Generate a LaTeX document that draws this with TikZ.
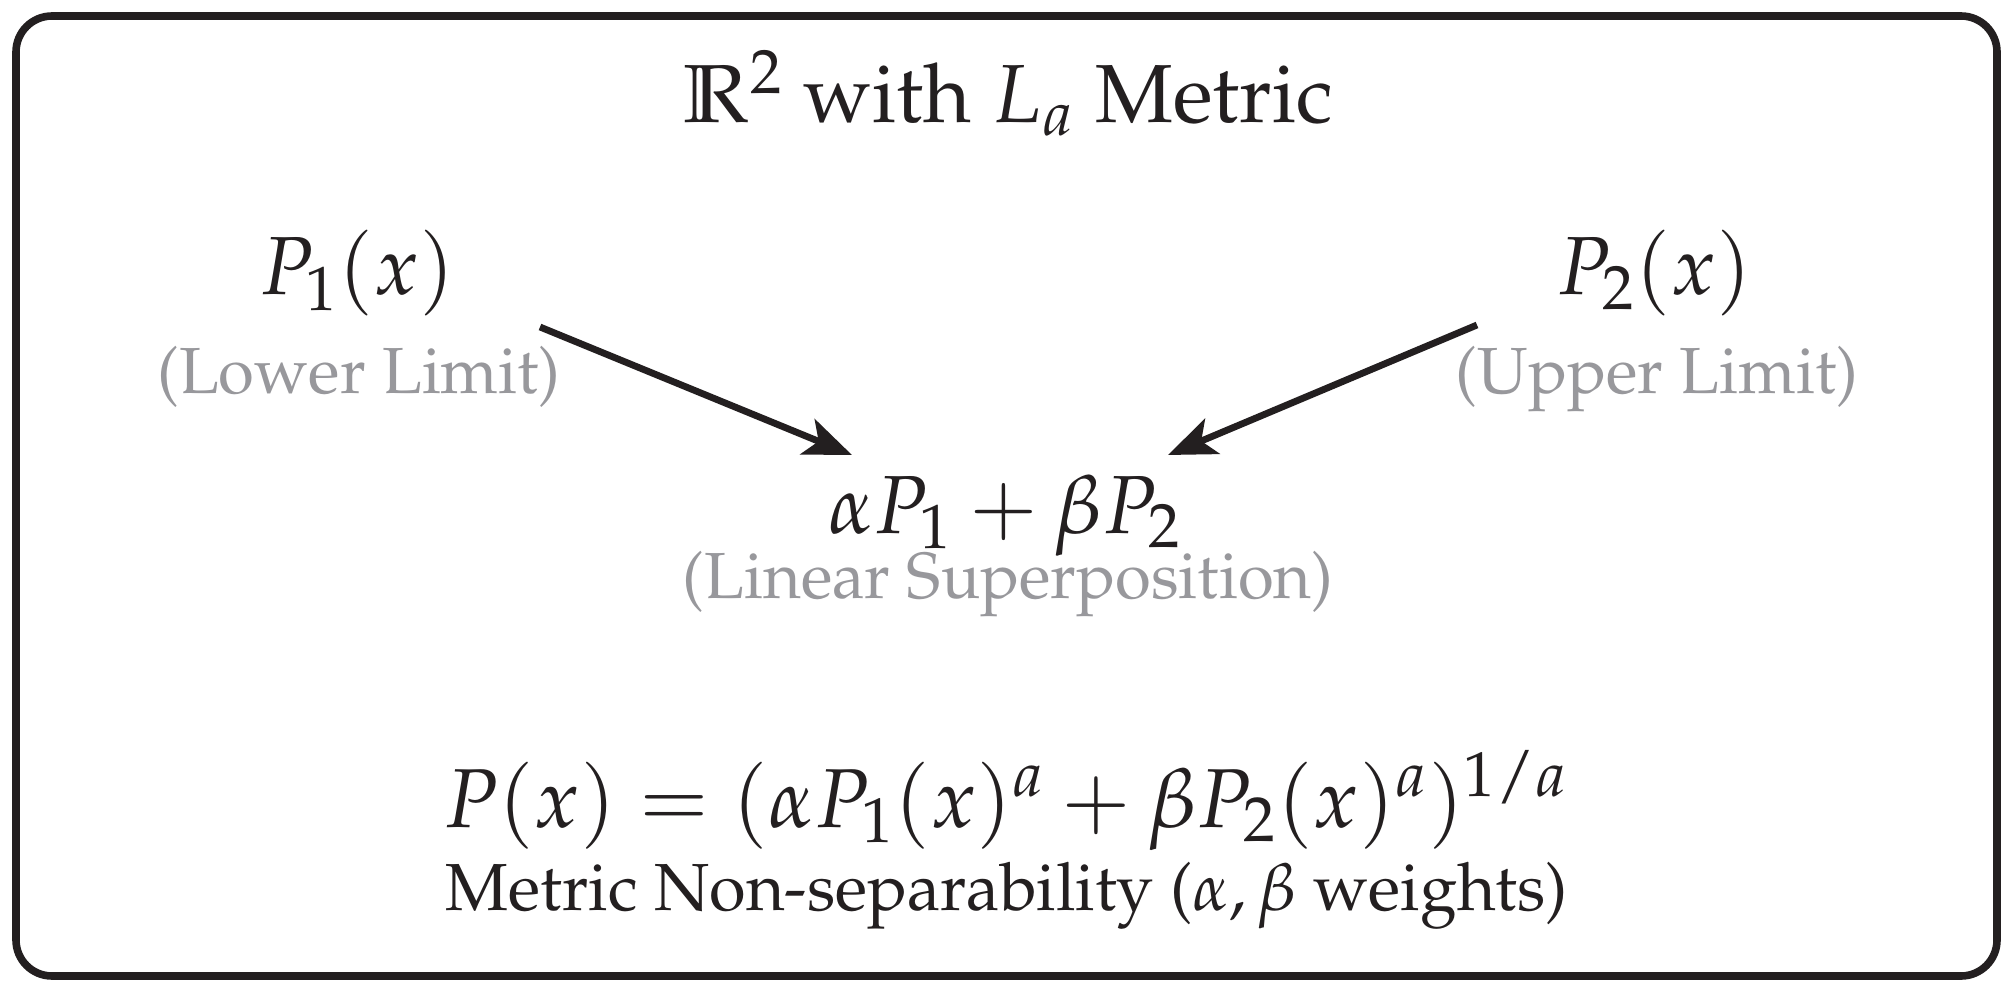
\documentclass[tikz,border=0pt]{standalone}
\usepackage[T1]{fontenc}
\usepackage{amsmath}
\usepackage{mathpazo}
\usetikzlibrary{arrows.meta}
\definecolor{ink}{RGB}{35,31,32}
\definecolor{softgray}{RGB}{152,152,156}
\tikzset{
  mainfont/.style={font=\fontsize{20.6}{24}\selectfont},
  formulafont/.style={font=\fontsize{20.9}{24}\selectfont},
  graylabel/.style={font=\fontsize{16.3}{19}\selectfont, text=softgray},
  notefont/.style={font=\fontsize{16.65}{20}\selectfont},
  txt/.style={anchor=base, inner sep=0pt, text=ink},
  arr/.style={draw=ink, line width=1.7pt, -{Stealth[length=12pt,width=9.5pt,inset=3pt]}},
  frame/.style={draw=ink, line width=1.9pt, rounded corners=9pt}
}
\begin{document}
\begin{tikzpicture}[x=0.25pt,y=-0.25pt]
\useasboundingbox (0,0) rectangle (2013,995);
\draw[frame] (16,16) rectangle (1997,976);
\node[txt,mainfont] (title) at (1008,123) {$\mathbb{R}^2$ with $L_a$ Metric};
\node[txt,mainfont] (p1) at (357,295) {$P_1(x)$};
\node[txt,graylabel] (lower) at (359,394) {(Lower Limit)};
\node[txt,mainfont] (p2) at (1654,295) {$P_2(x)$};
\node[txt,graylabel] (upper) at (1657,394) {(Upper Limit)};
\node[txt,mainfont] (sum) at (1005,533) {$\alpha P_1 + \beta P_2$};
\node[txt,graylabel] (lin) at (1008,598) {(Linear Superposition)};
\node[txt,formulafont] (formula) at (1006,827) {$P(x) = (\alpha P_1(x)^a + \beta P_2(x)^a)^{1/a}$};
\node[txt,notefont] (note) at (1007,910) {Metric Non-separability ($\alpha, \beta$ weights)};
\coordinate (s1) at (540,327);
\coordinate (t1) at (852,455);
\coordinate (s2) at (1477,325);
\coordinate (t2) at (1168,455);
\draw[arr] (s1) -- (t1);
\draw[arr] (s2) -- (t2);
\end{tikzpicture}
\end{document}
